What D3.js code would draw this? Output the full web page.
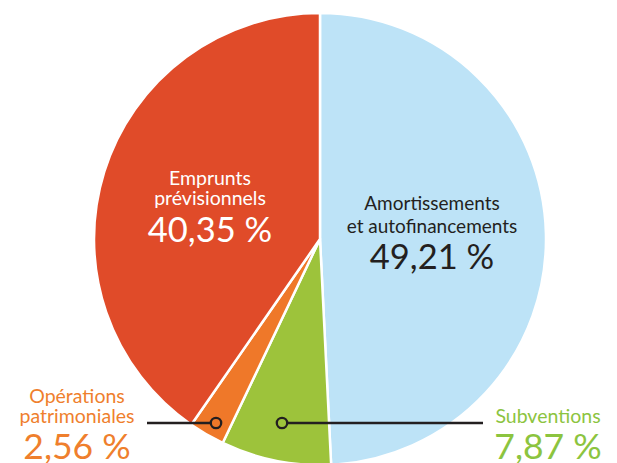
<!DOCTYPE html>
<html><head><meta charset="utf-8">
<script src="https://cdn.jsdelivr.net/npm/d3@7"></script>
<style>html,body{margin:0;padding:0;background:#fff;}svg{display:block;font-family:Lato,"Open Sans",sans-serif;}</style>
</head><body>
<script>
const categories = ["Amortissements et autofinancements", "Subventions", "Opérations patrimoniales", "Emprunts prévisionnels"];
const values = [49.21, 7.87, 2.56, 40.35];
const labels = ["49,21 %", "7,87 %", "2,56 %", "40,35 %"];
const colors = ["#bde3f7", "#9dc33b", "#ef7829", "#e04b29"];

const W = 617, H = 463, cx = 320, cy = 239, R = 226;
const svg = d3.select("body").append("svg").attr("width", W).attr("height", H);
const g = svg.append("g").attr("transform", `translate(${cx},${cy})`);

const pie = d3.pie().sort(null).value(d => d.v);
const data = categories.map((c, i) => ({c, v: values[i], lab: labels[i], col: colors[i]}));
const arcs = pie(data);
const arc = d3.arc().innerRadius(0).outerRadius(R);

g.selectAll("path").data(arcs).join("path")
  .attr("d", arc).attr("fill", d => d.data.col)
  .attr("stroke", "#fff").attr("stroke-width", 2.5).attr("stroke-linejoin", "round");

// Callouts
const yLine = 184;
const subX = -38, opX = -104;
g.append("line").attr("x1", subX).attr("y1", yLine).attr("x2", 163).attr("y2", yLine)
  .attr("stroke", "#231f20").attr("stroke-width", 2.5);
g.append("line").attr("x1", -173).attr("y1", yLine).attr("x2", opX).attr("y2", yLine)
  .attr("stroke", "#231f20").attr("stroke-width", 2.5);
[[subX, "#9dc33b"], [opX, "#ef7829"]].forEach(([x, f]) => {
  g.append("circle").attr("cx", x).attr("cy", yLine).attr("r", 5.2)
    .attr("fill", f).attr("stroke", "#231f20").attr("stroke-width", 2.3);
});

function block(x, lines, pct, color, sizes, ys, pctSize, pctY) {
  const t = svg.append("g").attr("fill", color).attr("text-anchor", "middle");
  lines.forEach((l, i) => t.append("text").attr("x", x).attr("y", ys[i]).attr("font-size", sizes).text(l));
  t.append("text").attr("x", x).attr("y", pctY).attr("font-size", pctSize).text(pct);
}
block(432, ["Amortissements", "et autofinancements"], labels[0], "#231f20", 19, [210, 233], 34.5, 269);
block(210, ["Emprunts", "prévisionnels"], labels[3], "#ffffff", 19.5, [185, 205], 34.5, 242);
block(77, ["Opérations", "patrimoniales"], labels[2], "#ef7f2d", 19.5, [403, 423], 35.5, 459);
block(548, ["Subventions"], labels[1], "#8cc43f", 19.5, [423], 35.5, 459);
</script>
</body></html>
